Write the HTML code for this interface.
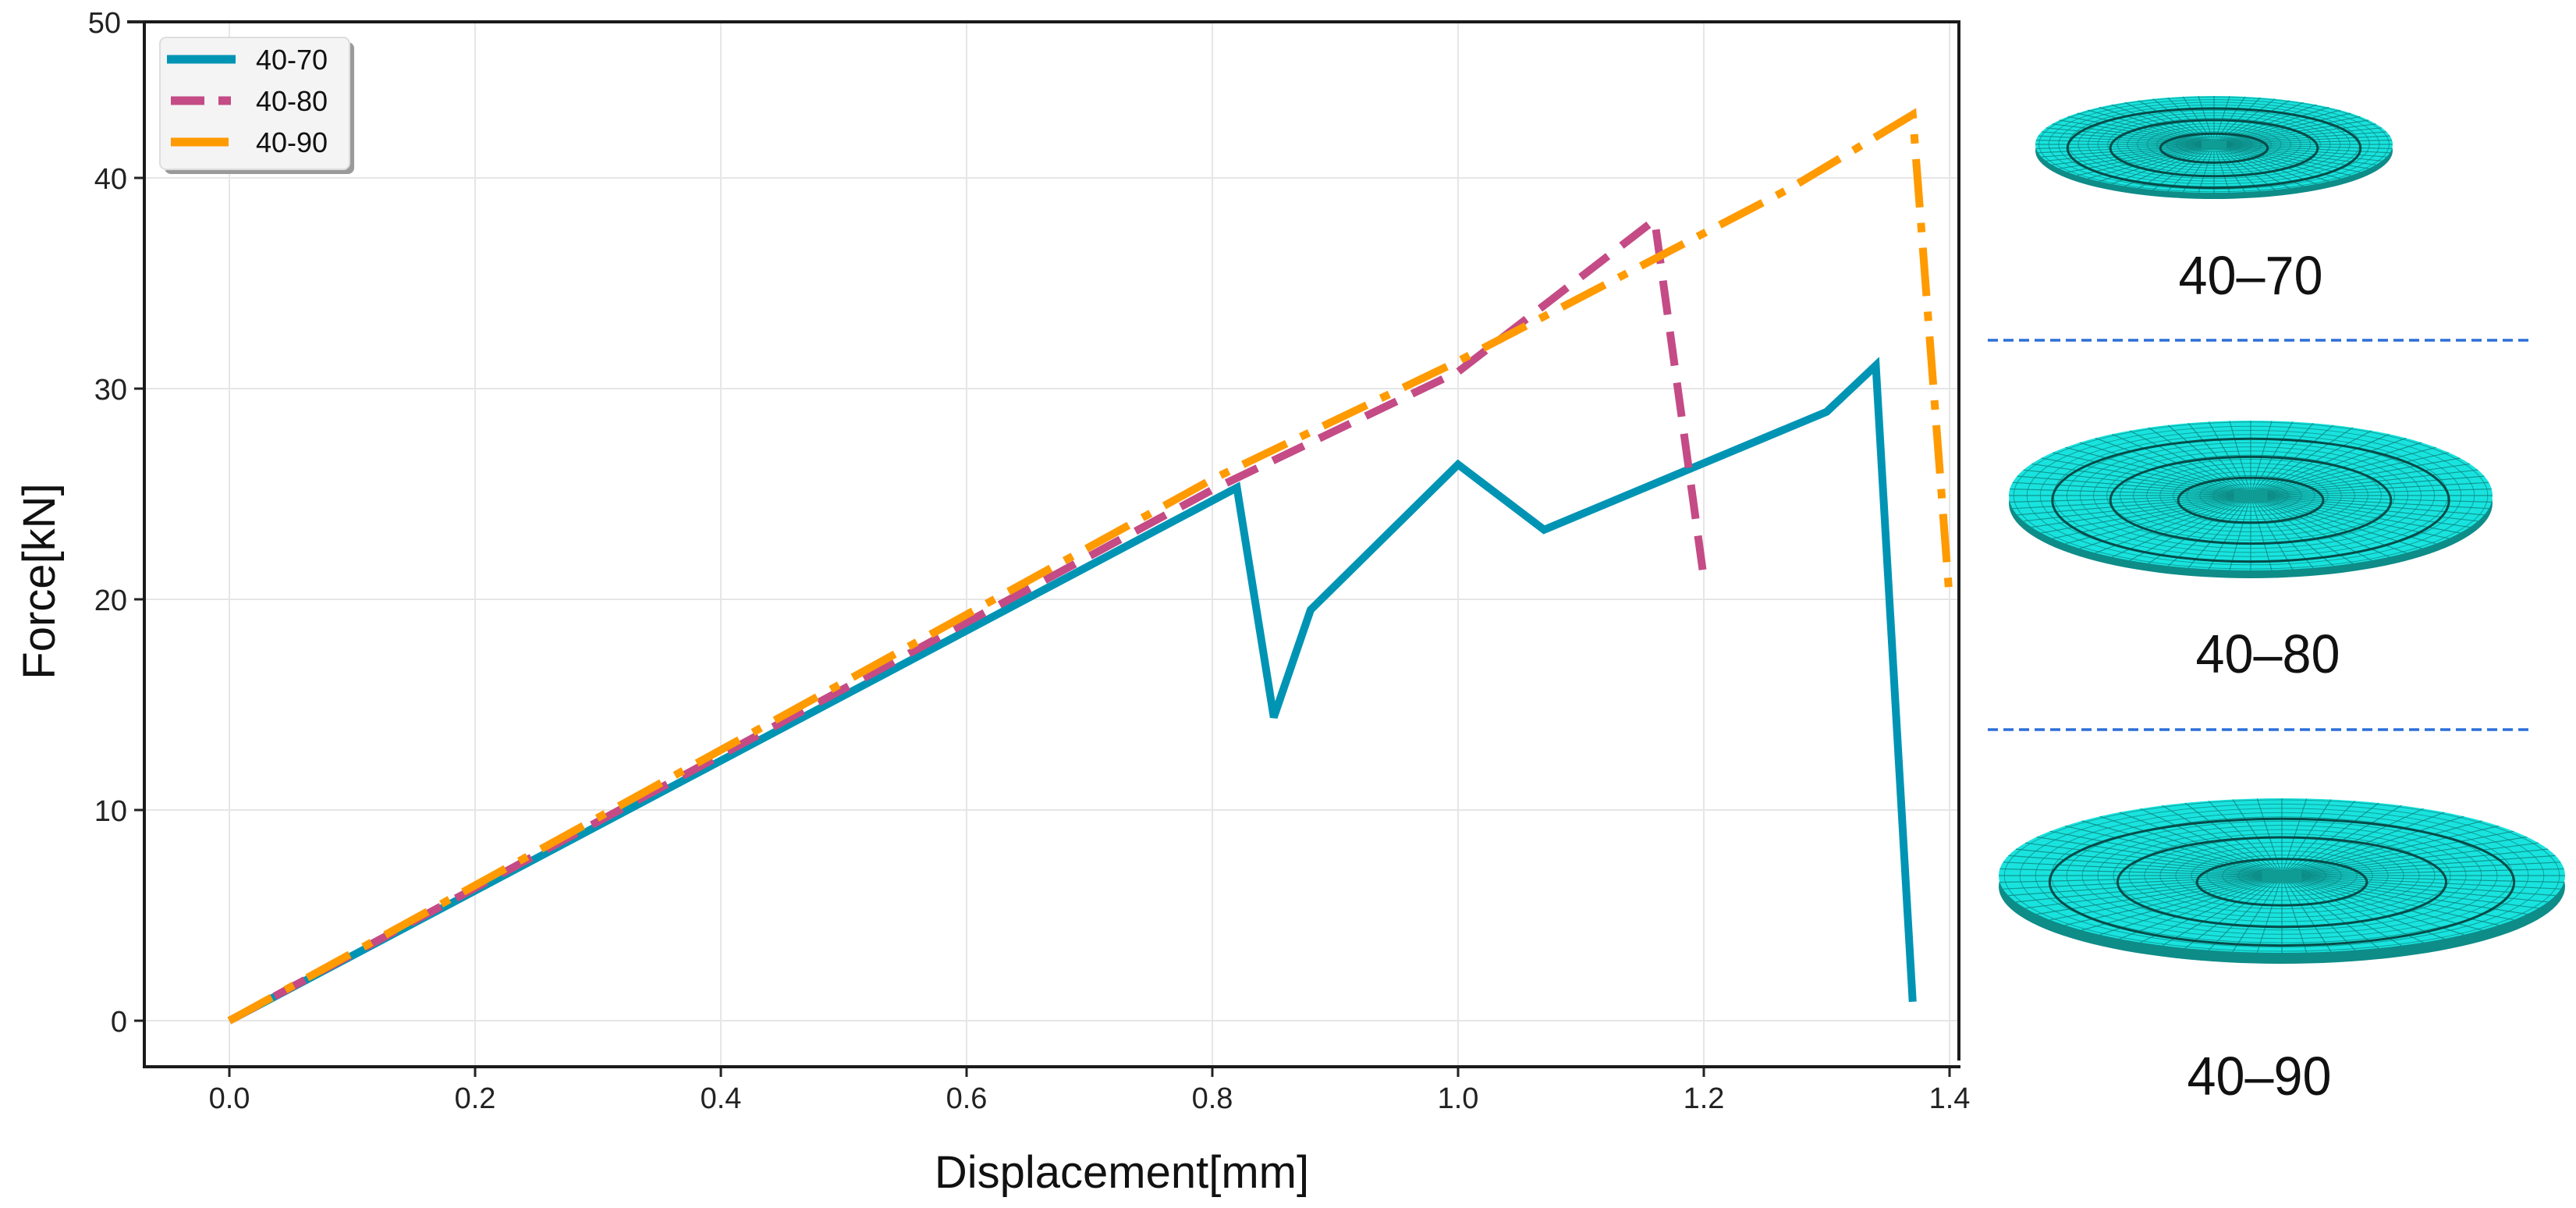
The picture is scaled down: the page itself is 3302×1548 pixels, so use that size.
<!DOCTYPE html>
<html><head><meta charset="utf-8"><style>
html,body{margin:0;padding:0;background:#fff;}
svg{display:block;font-family:"Liberation Sans",sans-serif;}
</style></head><body>
<svg id="chart" width="3302" height="1548" viewBox="0 0 3302 1548" xmlns="http://www.w3.org/2000/svg">
<g id="grid"></g>
<g id="series"></g>
<g id="axes"></g>
<g id="legend"></g>
<g id="discs"></g>
</svg>
<script>
const xTicks = [0.0, 0.2, 0.4, 0.6, 0.8, 1.0, 1.2, 1.4];
const xTickLabels = ["0.0","0.2","0.4","0.6","0.8","1.0","1.2","1.4"];
const yTicks = [0, 10, 20, 30, 40];
const yTickLabels = ["0","10","20","30","40"];
const seriesNames = ["40-70","40-80","40-90"];
const s1x = [0, 0.82, 0.85, 0.88, 1.0, 1.07, 1.30, 1.34, 1.37];
const s1y = [0, 25.3, 14.4, 19.5, 26.4, 23.3, 28.9, 31.1, 0.9];
const s2x = [0, 0.8, 1.0, 1.16, 1.20];
const s2y = [0, 25.2, 30.8, 38.0, 21.0];
const s3x = [0, 0.8, 1.0, 1.27, 1.37, 1.40];
const s3y = [0, 25.7, 31.3, 39.5, 43.0, 20.0];

const NS = "http://www.w3.org/2000/svg";
const X0 = 294, XS = 1575, Y0 = 1308, YS = 27;
function sx(v){ return X0 + v*XS; }
function sy(v){ return Y0 - v*YS; }
function mk(tag, attrs, parent){ const e=document.createElementNS(NS,tag); for(const k in attrs) e.setAttribute(k,attrs[k]); parent.appendChild(e); return e; }
const L=185, R=2511, T=28, B=1367;
const grid=document.getElementById('grid'), axes=document.getElementById('axes');
xTicks.forEach((t,i)=>{
  const g=mk('line',{x1:sx(t),x2:sx(t),y1:T,y2:B,stroke:'#e6e6e6','stroke-width':2},grid);
  
  
  const tk=mk('line',{x1:sx(t),x2:sx(t),y1:B,y2:B+13,stroke:'#222','stroke-width':3},axes);
  
  
  const tx=mk('text',{x:sx(t),y:1420,'text-anchor':'middle','font-size':38,fill:'#222'},axes);
  tx.textContent=xTickLabels[i];
  
  
});
yTicks.forEach((t,i)=>{
  const g=mk('line',{x1:L,x2:R,y1:sy(t),y2:sy(t),stroke:'#e6e6e6','stroke-width':2},grid);
  
  
  const tk=mk('line',{x1:L-13,x2:L,y1:sy(t),y2:sy(t),stroke:'#222','stroke-width':3},axes);
  
  
  const tx=mk('text',{x:L-22,y:sy(t)+14,'text-anchor':'end','font-size':38,fill:'#222'},axes);
  tx.textContent=yTickLabels[i];
  
  
});
const t50=mk('line',{x1:L-22,x2:L,y1:T,y2:T,stroke:'#222','stroke-width':4},axes);


const l50=mk('text',{x:L-30,y:T+14,'text-anchor':'end','font-size':38,fill:'#222'},axes);
l50.textContent='50';


const frame=mk('path',{d:`M${L},${T} H${R} V${B-8} M${L},${T} V${B} H${R+2}`,fill:'none',stroke:'#1a1a1a','stroke-width':4},axes);


const xt=mk('text',{x:1438,y:1522,'text-anchor':'middle','font-size':58,fill:'#111'},axes);
xt.textContent='Displacement[mm]';


const yt=mk('text',{x:0,y:0,'text-anchor':'middle','font-size':58,fill:'#111',transform:'translate(70,745) rotate(-90)'},axes);
yt.textContent='Force[kN]';



const ser=document.getElementById('series');
const styles=[{c:'#0094b4',d:''},{c:'#c44b85',d:'44 22'},{c:'#ff9a00',d:'62 20 12 20'}];
[[s1x,s1y],[s2x,s2y],[s3x,s3y]].forEach((s,i)=>{
  const pts=s[0].map((x,j)=>sx(x)+','+sy(s[1][j])).join(' ');
  const p=mk('polyline',{points:pts,fill:'none',stroke:styles[i].c,'stroke-width':10,'stroke-linejoin':'miter','stroke-dasharray':styles[i].d||'none'},ser);
  
  
});

const lg=document.getElementById('legend');
mk('rect',{x:211,y:54,width:243,height:169,rx:8,fill:'#9a9a9a'},lg);
const box=mk('rect',{x:205,y:48,width:243,height:169,rx:8,fill:'#f4f4f4',stroke:'#dddddd','stroke-width':2},lg);


const legY=[76,129,182];
seriesNames.forEach((n,i)=>{
  let ln;
  if(i===0) ln=mk('line',{x1:214,x2:302,y1:legY[i],y2:legY[i],stroke:styles[0].c,'stroke-width':11},lg);
  else if(i===1) ln=mk('line',{x1:219,x2:297,y1:legY[i],y2:legY[i],stroke:styles[1].c,'stroke-width':11,'stroke-dasharray':'43 18 16 50'},lg);
  else ln=mk('line',{x1:219,x2:293,y1:legY[i],y2:legY[i],stroke:styles[2].c,'stroke-width':11},lg);
  
  
  const t=mk('text',{x:328,y:legY[i]+13,'font-size':36,fill:'#111'},lg);
  t.textContent=n;
  
  
});

const dg=document.getElementById('discs');
function disc(cx,cy,rx,ry,th,name){
  const g=mk('g',{},dg);
  
  
  mk('ellipse',{cx:cx,cy:cy+th,rx:rx,ry:ry,fill:'#0e8c88'},g);
  mk('ellipse',{cx:cx,cy:cy,rx:rx,ry:ry,fill:'#19e3de'},g);
  for(let k=0;k<72;k++){const a=k/72*Math.PI*2;
    mk('line',{x1:cx+Math.cos(a)*rx*0.06,y1:cy+Math.sin(a)*ry*0.06,x2:cx+Math.cos(a)*rx,y2:cy+Math.sin(a)*ry,stroke:'#0d8580','stroke-width':1.2,opacity:0.8},g);}
  for(let r=0.1;r<1;r+=0.055){
    mk('ellipse',{cx:cx,cy:cy,rx:rx*r,ry:ry*r,fill:'none',stroke:'#0d8580','stroke-width':1,opacity:0.7},g);}
  [0.3,0.58,0.82].forEach(r=>{
    mk('ellipse',{cx:cx,cy:cy+th*0.6,rx:rx*r,ry:ry*r,fill:'none',stroke:'#064c49','stroke-width':3},g);});
  mk('rect',{x:cx-rx*0.07,y:cy-ry*0.08,width:rx*0.14,height:ry*0.17,fill:'#0f9c95'},g);
}
disc(2838,185,229,62,8,'disc-40-70');
disc(2885,635,310,96,10,'disc-40-80');
disc(2925,1122,363,99,14,'disc-40-90');
const labs=[['40–70',2885,377],['40–80',2907,862],['40–90',2896,1403]];
labs.forEach(l=>{
  const t=mk('text',{x:l[1],y:l[2],'text-anchor':'middle','font-size':70,fill:'#111',textLength:185,lengthAdjust:'spacingAndGlyphs'},dg);
  t.textContent=l[0];
  
  
});
[436,935].forEach(y=>{
  const d=mk('line',{x1:2548,x2:3247,y1:y,y2:y,stroke:'#2c6fd8','stroke-width':3.5,'stroke-dasharray':'13 7'},dg);
  
  
});
</script>
</body></html>
